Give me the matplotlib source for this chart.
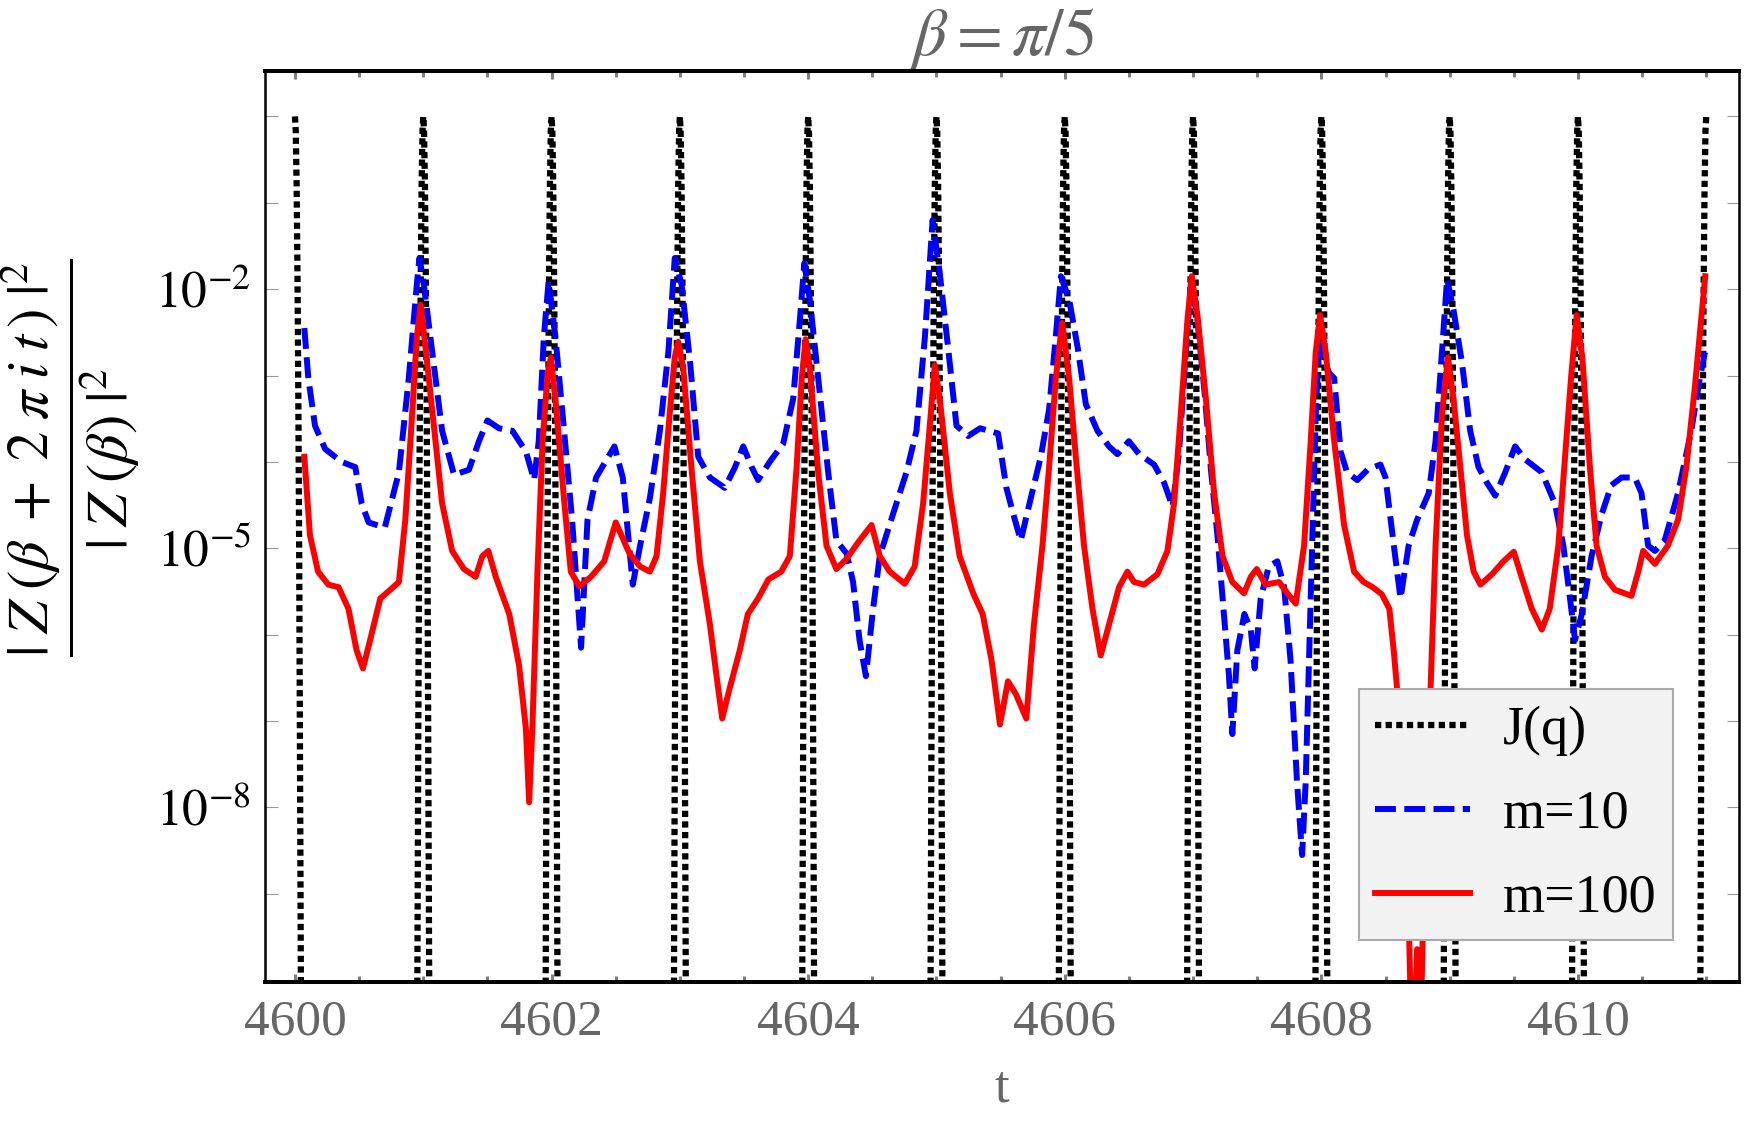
import numpy as np
import matplotlib
matplotlib.use("Agg")
import matplotlib.pyplot as plt
from matplotlib.ticker import FixedLocator, NullFormatter

plt.rcParams['font.family'] = ['Liberation Serif', 'DejaVu Serif']
plt.rcParams['mathtext.fontset'] = 'stix'

# J(q): one narrow spike at every integer t, all with the same shape
j_centers = [4600, 4601, 4602, 4603, 4604, 4605, 4606, 4607, 4608, 4609, 4610, 4611]
j_offsets = [-0.052, -0.046, -0.040, -0.033, -0.026, -0.020, -0.013, -0.006, 0.0,
             0.006, 0.013, 0.020, 0.026, 0.033, 0.040, 0.046, 0.052]
j_log = [-12.5, -10.0, -7.6, -5.1, -3.2, -1.9, -0.8, -0.17, 0.0,
         -0.17, -0.8, -1.9, -3.2, -5.1, -7.6, -10.0, -12.5]

# m=10 (blue dashed), log10 values
t_m10 = [4600.073, 4600.104, 4600.156, 4600.235, 4600.365, 4600.47, 4600.52, 4600.574, 4600.70, 4600.81,
         4600.887, 4600.95, 4600.97, 4601.004, 4601.07, 4601.147, 4601.24, 4601.356, 4601.434, 4601.50,
         4601.59, 4601.695, 4601.80, 4601.864, 4601.90, 4601.94, 4601.977, 4602.03, 4602.086, 4602.16,
         4602.23, 4602.28, 4602.347, 4602.49, 4602.555, 4602.633, 4602.69, 4602.766, 4602.844, 4602.91,
         4602.96, 4603.013, 4603.08, 4603.143, 4603.234, 4603.35, 4603.43, 4603.494, 4603.56, 4603.61,
         4603.70, 4603.805, 4603.883, 4603.935, 4603.97, 4604.013, 4604.078, 4604.156, 4604.22, 4604.30,
         4604.35, 4604.40, 4604.45, 4604.506, 4604.558, 4604.66, 4604.766, 4604.844, 4604.91, 4604.97,
         4605.026, 4605.09, 4605.156, 4605.247, 4605.34, 4605.48, 4605.545, 4605.60, 4605.657, 4605.735,
         4605.813, 4605.878, 4605.93, 4605.97, 4606.034, 4606.10, 4606.164, 4606.255, 4606.345, 4606.41,
         4606.50, 4606.58, 4606.696, 4606.774, 4606.84, 4606.89, 4606.94, 4606.985, 4607.03, 4607.09,
         4607.14, 4607.19, 4607.23, 4607.28, 4607.306, 4607.345, 4607.40, 4607.45, 4607.48, 4607.527,
         4607.59, 4607.657, 4607.71, 4607.76, 4607.81, 4607.85, 4607.878, 4607.917, 4607.956, 4607.985,
         4608.03, 4608.06, 4608.10, 4608.15, 4608.20, 4608.28, 4608.36, 4608.46, 4608.50, 4608.565,
         4608.617, 4608.68, 4608.746, 4608.837, 4608.89, 4608.94, 4608.98, 4609.03, 4609.096, 4609.16,
         4609.225, 4609.29, 4609.355, 4609.433, 4609.51, 4609.588, 4609.718, 4609.82, 4609.886, 4609.938,
         4609.977, 4610.03, 4610.106, 4610.184, 4610.26, 4610.34, 4610.443, 4610.495, 4610.547, 4610.60,
         4610.676, 4610.78, 4610.883, 4610.95, 4610.99]
log_m10 = [-2.45, -3.03, -3.58, -3.85, -4.00, -4.06, -4.48, -4.70, -4.76, -4.12,
           -3.03, -1.94, -1.64, -1.94, -2.73, -3.64, -4.15, -4.09, -3.76, -3.52,
           -3.61, -3.64, -3.88, -4.21, -3.76, -2.55, -1.91, -2.55, -3.45, -4.67,
           -6.15, -4.67, -4.18, -3.82, -4.18, -5.42, -4.97, -4.42, -3.64, -2.73,
           -1.64, -1.94, -2.85, -3.94, -4.18, -4.30, -4.06, -3.82, -4.06, -4.21,
           -4.00, -3.79, -3.27, -2.36, -1.70, -2.12, -3.03, -4.12, -4.91, -5.06,
           -5.39, -6.06, -6.48, -5.70, -5.09, -4.61, -4.12, -3.64, -2.55, -1.20,
           -1.82, -2.67, -3.58, -3.70, -3.61, -3.67, -4.30, -4.61, -4.91, -4.42,
           -3.94, -3.39, -2.55, -1.85, -2.12, -2.67, -3.33, -3.64, -3.82, -3.91,
           -3.76, -3.91, -4.03, -4.24, -4.52, -3.90, -2.80, -1.90, -2.30, -3.20,
           -4.10, -4.85, -5.58, -6.48, -7.15, -6.18, -5.76, -5.94, -6.39, -5.58,
           -5.21, -5.15, -5.45, -6.30, -7.70, -8.55, -7.70, -5.58, -3.45, -2.55,
           -2.85, -2.97, -3.03, -3.88, -4.12, -4.21, -4.09, -4.03, -4.18, -4.97,
           -5.58, -4.97, -4.67, -4.36, -3.76, -2.73, -1.88, -2.24, -2.85, -3.64,
           -4.06, -4.24, -4.39, -4.12, -3.82, -3.97, -4.12, -4.48, -4.97, -5.58,
           -6.06, -5.76, -5.09, -4.61, -4.27, -4.18, -4.18, -4.36, -4.97, -5.03,
           -4.91, -4.36, -3.64, -3.03, -2.73]

# m=100 (red solid), log10 values
t_m100 = [4600.073, 4600.117, 4600.18, 4600.26, 4600.34, 4600.417, 4600.48, 4600.53, 4600.586, 4600.665,
          4600.743, 4600.81, 4600.86, 4600.913, 4600.95, 4600.98, 4601.017, 4601.082, 4601.147, 4601.225,
          4601.317, 4601.408, 4601.46, 4601.507, 4601.565, 4601.67, 4601.747, 4601.80, 4601.825, 4601.85,
          4601.89, 4601.93, 4601.97, 4601.995, 4602.03, 4602.10, 4602.15, 4602.216, 4602.307, 4602.41,
          4602.50, 4602.607, 4602.69, 4602.766, 4602.818, 4602.87, 4602.92, 4602.96, 4602.987, 4603.026,
          4603.09, 4603.156, 4603.234, 4603.286, 4603.33, 4603.39, 4603.467, 4603.53, 4603.61, 4603.69,
          4603.79, 4603.857, 4603.91, 4603.95, 4603.98, 4604.013, 4604.078, 4604.143, 4604.22, 4604.30,
          4604.40, 4604.494, 4604.558, 4604.636, 4604.753, 4604.83, 4604.896, 4604.948, 4604.987, 4605.026,
          4605.104, 4605.18, 4605.286, 4605.36, 4605.43, 4605.495, 4605.557, 4605.62, 4605.70, 4605.76,
          4605.826, 4605.878, 4605.93, 4605.98, 4606.034, 4606.086, 4606.15, 4606.216, 4606.28, 4606.345,
          4606.423, 4606.488, 4606.54, 4606.618, 4606.722, 4606.80, 4606.852, 4606.904, 4606.956, 4606.99,
          4607.034, 4607.10, 4607.164, 4607.23, 4607.306, 4607.397, 4607.45, 4607.496, 4607.566, 4607.67,
          4607.735, 4607.80, 4607.865, 4607.917, 4607.956, 4607.99, 4608.034, 4608.10, 4608.177, 4608.255,
          4608.33, 4608.40, 4608.47, 4608.53, 4608.565, 4608.60, 4608.64, 4608.68, 4608.70, 4608.72,
          4608.746, 4608.77, 4608.79, 4608.81, 4608.85, 4608.89, 4608.94, 4608.987, 4609.03, 4609.083,
          4609.135, 4609.187, 4609.24, 4609.33, 4609.42, 4609.50, 4609.56, 4609.64, 4609.718, 4609.78,
          4609.847, 4609.90, 4609.946, 4609.99, 4610.034, 4610.093, 4610.145, 4610.21, 4610.288, 4610.417,
          4610.47, 4610.508, 4610.60, 4610.70, 4610.78, 4610.845, 4610.91, 4610.948, 4610.992]
log_m100 = [-3.94, -4.85, -5.27, -5.42, -5.45, -5.70, -6.18, -6.39, -6.06, -5.58,
            -5.48, -5.39, -4.67, -3.45, -2.55, -2.18, -2.67, -3.58, -4.48, -5.03,
            -5.24, -5.33, -5.09, -5.03, -5.33, -5.76, -6.36, -7.09, -7.94, -7.09,
            -5.27, -3.76, -2.97, -2.79, -3.27, -4.48, -5.27, -5.44, -5.33, -5.15,
            -4.70, -5.06, -5.21, -5.27, -5.09, -4.36, -3.45, -2.79, -2.61, -2.91,
            -4.06, -5.15, -5.88, -6.48, -6.97, -6.61, -6.18, -5.76, -5.58, -5.36,
            -5.27, -5.09, -4.06, -3.03, -2.58, -2.91, -4.12, -4.97, -5.24, -5.12,
            -4.91, -4.73, -5.09, -5.27, -5.41, -5.21, -4.48, -3.58, -2.88, -3.27,
            -4.36, -5.09, -5.52, -5.76, -6.30, -7.04, -6.54, -6.69, -6.97, -5.88,
            -4.97, -4.06, -3.03, -2.39, -3.03, -3.94, -4.97, -5.70, -6.24, -5.88,
            -5.45, -5.27, -5.39, -5.42, -5.30, -5.03, -4.48, -3.45, -2.36, -1.85,
            -2.30, -3.27, -4.36, -5.09, -5.39, -5.52, -5.33, -5.24, -5.42, -5.39,
            -5.52, -5.64, -4.97, -3.76, -2.73, -2.30, -2.73, -3.76, -4.73, -5.27,
            -5.39, -5.45, -5.53, -5.70, -6.20, -6.79, -8.00, -9.21, -10.5, -10.8,
            -9.64, -10.8, -9.50, -8.00, -6.67, -4.97, -3.45, -2.79, -3.27, -4.06,
            -4.85, -5.27, -5.42, -5.30, -5.15, -5.04, -5.33, -5.70, -5.94, -5.70,
            -4.97, -3.94, -3.03, -2.30, -2.79, -4.06, -4.97, -5.33, -5.48, -5.55,
            -5.27, -5.03, -5.18, -4.97, -4.67, -4.06, -3.15, -2.55, -1.85]

xtick_major = [4600, 4602, 4604, 4606, 4608, 4610]
ytick_major = [1e-2, 1e-5, 1e-8]
ytick_labels = [r'$10^{-2}$', r'$10^{-5}$', r'$10^{-8}$']

# assemble the J(q) spikes, with gaps between them (the curve dips below the frame)
t_j, y_j = [], []
for k, c in enumerate(j_centers):
    for off, lv in zip(j_offsets, j_log):
        if k == 0 and off < 0:
            continue
        if k == len(j_centers) - 1 and off > 0:
            continue
        t_j.append(c + off)
        y_j.append(10.0 ** lv)
    t_j.append(np.nan)
    y_j.append(np.nan)

fig = plt.figure(figsize=(17.5, 11.21), dpi=100)
ax = fig.add_axes([0.1514, 0.124, 0.8423, 0.813])

ax.plot(t_j, y_j, color='black', lw=4.5, linestyle=(0, (1.0, 0.7)), label='J(q)')
ax.plot(t_m10, 10.0 ** np.array(log_m10), color='#0000ff', lw=4.3,
        linestyle=(0, (3.5, 1.4)), label='m=10')
ax.plot(t_m100, 10.0 ** np.array(log_m100), color='#ff0000', lw=4.3, label='m=100')

ax.set_yscale('log')
ax.set_xlim(4599.766, 4611.255)
ax.set_ylim(10 ** -10.02, 10 ** 0.53)

ax.xaxis.set_major_locator(FixedLocator(xtick_major))
ax.xaxis.set_minor_locator(FixedLocator(np.arange(4599.5, 4611.6, 0.5)))
ax.set_xticklabels([str(v) for v in xtick_major])
ax.xaxis.set_minor_formatter(NullFormatter())
ax.yaxis.set_major_locator(FixedLocator(ytick_major))
ax.yaxis.set_minor_locator(FixedLocator([10.0 ** k for k in range(-10, 1)]))
ax.set_yticklabels(ytick_labels)
ax.yaxis.set_minor_formatter(NullFormatter())

ax.tick_params(axis='x', which='major', direction='in', length=6, width=2.2,
               color='#808080', top=True, labelsize=37, labelcolor='#666666', pad=12)
ax.tick_params(axis='x', which='minor', direction='in', length=4, width=2.2,
               color='#808080', top=True)
ax.tick_params(axis='y', which='both', direction='in', length=9, width=0.8,
               color='#999999', right=True, labelsize=37, labelcolor='black', pad=10)

for side in ['top', 'bottom']:
    ax.spines[side].set_linewidth(2.9)
for side in ['left', 'right']:
    ax.spines[side].set_linewidth(1.8)

fig.text(0.5726, 0.966, r'$\beta = \pi/5$', ha='center', va='center',
         fontsize=48, color='#666666')
fig.text(0.5726, 0.029, 't', ha='center', va='center', fontsize=38, color='#666666')
fig.text(0.040, 0.592,
         r'$\dfrac{|\;Z\;(\beta\;+\;2\;\pi\;i\;t\,)\;|^{2}}{|\;Z\;(\beta)\;|^{2}}$',
         rotation=90, ha='center', va='center', fontsize=42, color='black')

leg = ax.legend(loc='lower right', bbox_to_anchor=(0.955, 0.046), borderaxespad=0,
                fontsize=39, frameon=True, fancybox=False, handlelength=1.75,
                handletextpad=0.6, labelspacing=0.62, borderpad=0.3)
leg.get_frame().set_facecolor('#f2f2f2')
leg.get_frame().set_edgecolor('#aaaaaa')
leg.get_frame().set_linewidth(1.5)
leg.get_frame().set_alpha(1.0)

fig.savefig('out.png', dpi=100)
